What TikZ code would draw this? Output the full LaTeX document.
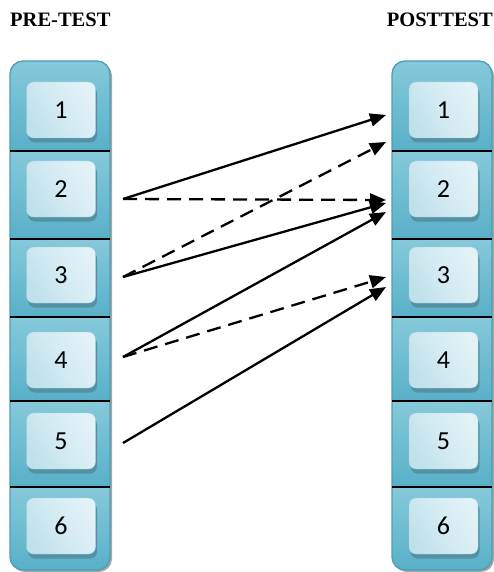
\documentclass[tikz,border=0pt]{standalone}
\usepackage{fontspec}
\setmainfont{Liberation Serif}
\newfontfamily\numfont{Carlito}
\usetikzlibrary{arrows.meta,shadows}
\definecolor{colTop}{HTML}{86C9DA}
\definecolor{colBot}{HTML}{58B0C8}
\definecolor{colEdge}{HTML}{4A9FB8}
\definecolor{btnA}{HTML}{BFE1EC}
\definecolor{btnB}{HTML}{E2F2F7}
\definecolor{btnEdge}{HTML}{9CCFDD}
\definecolor{btnShadow}{HTML}{5491A4}
\tikzset{
  title/.style={font=\bfseries\fontsize{20.5}{22}\selectfont, inner sep=0pt},
  colbox/.style={rounded corners=13pt, draw=colEdge, line width=1.3pt},
  section/.style={top color=colTop, bottom color=colBot},
  divider/.style={draw=black, line width=1.1pt},
  btn/.style={rounded corners=7pt, minimum width=69pt, minimum height=56pt, inner sep=0pt,
    draw=btnEdge, line width=0.4pt,
    top color=btnA, bottom color=btnB, middle color=btnB!60!btnA, shading angle=120,
    drop shadow={shadow xshift=1.5pt, shadow yshift=-4.5pt, fill=btnShadow, opacity=1},
    font=\numfont\fontsize{26}{26}\selectfont},
  arr/.style={line width=2.3pt, -{Triangle[length=16pt,width=13pt]}},
  dasharr/.style={arr, dash pattern=on 14pt off 8pt},
}
\begin{document}
\begin{tikzpicture}[x=1pt,y=-1pt]
\useasboundingbox (0,0) rectangle (494,572);
% titles
\node[title, anchor=west] (pretitle) at (10,20) {PRE-TEST};
\node[title, anchor=east] (posttitle) at (493,20) {POSTTEST};
% columns
\foreach \xl/\xr in {10/110, 392/492}{
  \fill[black!35, rounded corners=13pt] (\xl+2,63) rectangle (\xr+2,572);
  \begin{scope}
    \clip[rounded corners=13pt] (\xl,61) rectangle (\xr,570);
    \foreach \ya/\yb in {61/151,151/239,239/317,317/401,401/487,487/570}{
      \shade[section] (\xl,\ya) rectangle (\xr,\yb);
    }
  \end{scope}
  \draw[colbox] (\xl,61) rectangle (\xr,570);
  \foreach \yd in {151,239,317,401,487}{
    \draw[divider] (\xl,\yd) -- (\xr,\yd);
  }
}
% buttons
\foreach \i/\yc in {1/110,2/189,3/275,4/360,5/441,6/526}{
  \node[btn] (pre\i) at (61,\yc) {\i};
  \node[btn] (post\i) at (443.5,\yc) {\i};
}
% arrow end points
\coordinate (s2) at (123,199);
\coordinate (s3) at (123,277);
\coordinate (s4) at (123,357);
\coordinate (s5) at (123,443);
\coordinate (e1a) at (386,115);
\coordinate (e1b) at (386,142);
\coordinate (e2a) at (386,200);
\coordinate (e2b) at (386,203);
\coordinate (e2c) at (386,212);
\coordinate (e3a) at (386,277);
\coordinate (e3b) at (386,287);
% arrows
\draw[arr] (s2) -- (e1a);
\draw[dasharr] (s2) -- (e2a);
\draw[dasharr] (s3) -- (e1b);
\draw[arr] (s3) -- (e2b);
\draw[arr] (s4) -- (e2c);
\draw[dasharr] (s4) -- (e3a);
\draw[arr] (s5) -- (e3b);
\end{tikzpicture}
\end{document}
